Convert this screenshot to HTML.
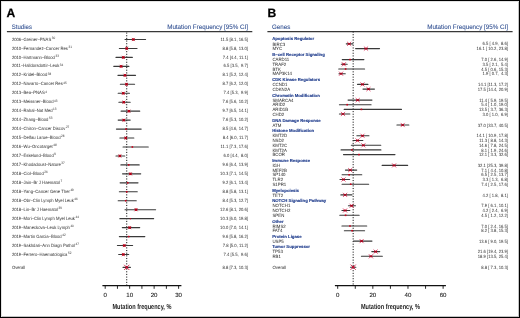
<!DOCTYPE html>
<html><head><meta charset="utf-8"><style>
html,body{margin:0;padding:0;background:#fff;}
body{width:520px;height:318px;overflow:hidden;position:relative;}
.frame{position:absolute;left:0;top:0;width:520px;height:318px;box-sizing:border-box;border:1px solid #000;border-right-width:1px;border-bottom-width:1px;}
.rb{position:absolute;left:518px;top:0;width:1px;height:318px;background:#c4c4c4;}
.bb{position:absolute;left:0;top:316px;width:520px;height:1px;background:#c4c4c4;}
.lb{position:absolute;left:1px;top:0;width:1px;height:318px;background:#e4e4e4;}
.tb{position:absolute;left:0;top:1px;width:520px;height:1px;background:#e4e4e4;}
svg{position:absolute;left:0;top:0;will-change:transform;}
svg text{font-family:"Liberation Sans", sans-serif;text-rendering:geometricPrecision;}
</style></head><body>
<svg width="520" height="318" viewBox="0 0 520 318">
<text x="6.55" y="16.65" font-size="12.1" font-weight="bold" fill="#000" stroke="#000" stroke-width="0.25">A</text>
<text x="267.6" y="16.65" font-size="12.1" font-weight="bold" fill="#000" stroke="#000" stroke-width="0.25">B</text>
<text x="0" y="0" font-size="6.5" fill="#2f4e90" transform="translate(11.85 28.50) scale(0.925 1)" style="white-space:pre" stroke="#2f4e90" stroke-width="0.08">Studies</text>
<text x="0" y="0" font-size="6.5" fill="#2f4e90" text-anchor="end" transform="translate(248.00 28.50) scale(0.96 1)" style="white-space:pre" stroke="#2f4e90" stroke-width="0.08">Mutation Frequency [95% CI]</text>
<text x="0" y="0" font-size="6.5" fill="#2f4e90" transform="translate(272.00 28.50) scale(0.955 1)" style="white-space:pre" stroke="#2f4e90" stroke-width="0.08">Genes</text>
<text x="0" y="0" font-size="6.5" fill="#2f4e90" text-anchor="end" transform="translate(508.00 28.50) scale(0.96 1)" style="white-space:pre" stroke="#2f4e90" stroke-width="0.08">Mutation Frequency [95% CI]</text>
<line x1="6.9" y1="31.6" x2="252.3" y2="31.6" stroke="#383838" stroke-width="1.2"/>
<line x1="267.4" y1="31.6" x2="512.6" y2="31.6" stroke="#383838" stroke-width="1.2"/>
<line x1="126.73" y1="32.55" x2="126.73" y2="285.6" stroke="#111" stroke-width="1.0" stroke-dasharray="1.1 1.552"/>
<line x1="353.16" y1="31.5" x2="353.16" y2="285.6" stroke="#111" stroke-width="1.0" stroke-dasharray="1.1 1.552"/>
<text x="0" y="0" font-size="4.6" fill="#2e2e2e" transform="translate(11.90 40.60) scale(0.91 1)" style="white-space:pre">2006–Greiner–PNAS<tspan font-size="3.4" dy="-1.8" dx="0.6">30</tspan></text>
<text x="0" y="0" font-size="4.6" fill="#2e2e2e" text-anchor="end" transform="translate(248.00 40.60) scale(0.91 1)" style="white-space:pre">11.5 [8.1, 16.5]</text>
<line x1="125.02" y1="39.50" x2="145.58" y2="39.50" stroke="#3a3a3a" stroke-width="1.12" stroke-linecap="round"/>
<rect x="132.14" y="38.30" width="2.4" height="2.4" fill="#d4001c"/><path d="M131.74 37.90L134.94 41.10M131.74 41.10L134.94 37.90" stroke="#8a0014" stroke-width="0.5"/>
<text x="0" y="0" font-size="4.6" fill="#2e2e2e" transform="translate(11.90 49.56) scale(0.91 1)" style="white-space:pre">2010–Fernandez–Cancer Res<tspan font-size="3.4" dy="-1.8" dx="0.6">31</tspan></text>
<text x="0" y="0" font-size="4.6" fill="#2e2e2e" text-anchor="end" transform="translate(248.00 49.56) scale(0.91 1)" style="white-space:pre">8.8 [5.8, 13.0]</text>
<line x1="119.39" y1="48.46" x2="137.01" y2="48.46" stroke="#3a3a3a" stroke-width="1.12" stroke-linecap="round"/>
<rect x="125.53" y="47.26" width="2.4" height="2.4" fill="#d4001c"/><path d="M125.13 46.86L128.33 50.06M125.13 50.06L128.33 46.86" stroke="#8a0014" stroke-width="0.5"/>
<text x="0" y="0" font-size="4.6" fill="#2e2e2e" transform="translate(11.90 58.52) scale(0.91 1)" style="white-space:pre">2010–Hartmann–Blood<tspan font-size="3.4" dy="-1.8" dx="0.6">33</tspan></text>
<text x="0" y="0" font-size="4.6" fill="#2e2e2e" text-anchor="end" transform="translate(248.00 58.52) scale(0.91 1)" style="white-space:pre">7.4 [4.4, 11.1]</text>
<line x1="115.97" y1="57.42" x2="132.36" y2="57.42" stroke="#3a3a3a" stroke-width="1.12" stroke-linecap="round"/>
<rect x="122.11" y="56.22" width="2.4" height="2.4" fill="#d4001c"/><path d="M121.71 55.82L124.91 59.02M121.71 59.02L124.91 55.82" stroke="#8a0014" stroke-width="0.5"/>
<text x="0" y="0" font-size="4.6" fill="#2e2e2e" transform="translate(11.90 67.47) scale(0.91 1)" style="white-space:pre">2011–Halldorsdottir–Leuk<tspan font-size="3.4" dy="-1.8" dx="0.6">34</tspan></text>
<text x="0" y="0" font-size="4.6" fill="#2e2e2e" text-anchor="end" transform="translate(248.00 67.47) scale(0.91 1)" style="white-space:pre">6.5 [3.5,  9.7]</text>
<line x1="113.76" y1="66.37" x2="128.94" y2="66.37" stroke="#3a3a3a" stroke-width="1.12" stroke-linecap="round"/>
<rect x="119.91" y="65.17" width="2.4" height="2.4" fill="#d4001c"/><path d="M119.51 64.77L122.71 67.97M119.51 67.97L122.71 64.77" stroke="#8a0014" stroke-width="0.5"/>
<text x="0" y="0" font-size="4.6" fill="#2e2e2e" transform="translate(11.90 76.43) scale(0.91 1)" style="white-space:pre">2012–Kridel–Blood<tspan font-size="3.4" dy="-1.8" dx="0.6">38</tspan></text>
<text x="0" y="0" font-size="4.6" fill="#2e2e2e" text-anchor="end" transform="translate(248.00 76.43) scale(0.91 1)" style="white-space:pre">8.1 [5.2, 12.4]</text>
<line x1="117.92" y1="75.33" x2="135.54" y2="75.33" stroke="#3a3a3a" stroke-width="1.12" stroke-linecap="round"/>
<rect x="123.82" y="74.13" width="2.4" height="2.4" fill="#d4001c"/><path d="M123.42 73.73L126.62 76.93M123.42 76.93L126.62 73.73" stroke="#8a0014" stroke-width="0.5"/>
<text x="0" y="0" font-size="4.6" fill="#2e2e2e" transform="translate(11.90 85.39) scale(0.91 1)" style="white-space:pre">2012–Navarro–Cancer Res<tspan font-size="3.4" dy="-1.8" dx="0.6">45</tspan></text>
<text x="0" y="0" font-size="4.6" fill="#2e2e2e" text-anchor="end" transform="translate(248.00 85.39) scale(0.91 1)" style="white-space:pre">8.7 [6.2, 12.0]</text>
<line x1="120.37" y1="84.29" x2="134.56" y2="84.29" stroke="#3a3a3a" stroke-width="1.12" stroke-linecap="round"/>
<rect x="125.29" y="83.09" width="2.4" height="2.4" fill="#d4001c"/><path d="M124.89 82.69L128.09 85.89M124.89 85.89L128.09 82.69" stroke="#8a0014" stroke-width="0.5"/>
<text x="0" y="0" font-size="4.6" fill="#2e2e2e" transform="translate(11.90 94.35) scale(0.91 1)" style="white-space:pre">2013–Bea–PNAS<tspan font-size="3.4" dy="-1.8" dx="0.6">4</tspan></text>
<text x="0" y="0" font-size="4.6" fill="#2e2e2e" text-anchor="end" transform="translate(248.00 94.35) scale(0.91 1)" style="white-space:pre">7.4 [5.3,  9.9]</text>
<line x1="118.17" y1="93.25" x2="129.43" y2="93.25" stroke="#3a3a3a" stroke-width="1.12" stroke-linecap="round"/>
<rect x="122.11" y="92.05" width="2.4" height="2.4" fill="#d4001c"/><path d="M121.71 91.65L124.91 94.85M121.71 94.85L124.91 91.65" stroke="#8a0014" stroke-width="0.5"/>
<text x="0" y="0" font-size="4.6" fill="#2e2e2e" transform="translate(11.90 103.31) scale(0.91 1)" style="white-space:pre">2013–Meissner–Blood<tspan font-size="3.4" dy="-1.8" dx="0.6">43</tspan></text>
<text x="0" y="0" font-size="4.6" fill="#2e2e2e" text-anchor="end" transform="translate(248.00 103.31) scale(0.91 1)" style="white-space:pre">7.6 [5.6, 10.2]</text>
<line x1="118.90" y1="102.21" x2="130.16" y2="102.21" stroke="#3a3a3a" stroke-width="1.12" stroke-linecap="round"/>
<rect x="122.60" y="101.01" width="2.4" height="2.4" fill="#d4001c"/><path d="M122.20 100.61L125.40 103.81M122.20 103.81L125.40 100.61" stroke="#8a0014" stroke-width="0.5"/>
<text x="0" y="0" font-size="4.6" fill="#2e2e2e" transform="translate(11.90 112.26) scale(0.91 1)" style="white-space:pre">2014–Rahal–Nat Med<tspan font-size="3.4" dy="-1.8" dx="0.6">13</tspan></text>
<text x="0" y="0" font-size="4.6" fill="#2e2e2e" text-anchor="end" transform="translate(248.00 112.26) scale(0.91 1)" style="white-space:pre">9.7 [6.5, 14.1]</text>
<line x1="121.11" y1="111.16" x2="139.70" y2="111.16" stroke="#3a3a3a" stroke-width="1.12" stroke-linecap="round"/>
<rect x="127.74" y="109.96" width="2.4" height="2.4" fill="#d4001c"/><path d="M127.34 109.56L130.54 112.76M127.34 112.76L130.54 109.56" stroke="#8a0014" stroke-width="0.5"/>
<text x="0" y="0" font-size="4.6" fill="#2e2e2e" transform="translate(11.90 121.22) scale(0.91 1)" style="white-space:pre">2014–Zhang–Blood<tspan font-size="3.4" dy="-1.8" dx="0.6">53</tspan></text>
<text x="0" y="0" font-size="4.6" fill="#2e2e2e" text-anchor="end" transform="translate(248.00 121.22) scale(0.91 1)" style="white-space:pre">7.6 [5.3, 10.2]</text>
<line x1="118.17" y1="120.12" x2="130.16" y2="120.12" stroke="#3a3a3a" stroke-width="1.12" stroke-linecap="round"/>
<rect x="122.60" y="118.92" width="2.4" height="2.4" fill="#d4001c"/><path d="M122.20 118.52L125.40 121.72M122.20 121.72L125.40 118.52" stroke="#8a0014" stroke-width="0.5"/>
<text x="0" y="0" font-size="4.6" fill="#2e2e2e" transform="translate(11.90 130.18) scale(0.91 1)" style="white-space:pre">2014–Chiron–Cancer Discov<tspan font-size="3.4" dy="-1.8" dx="0.6">27</tspan></text>
<text x="0" y="0" font-size="4.6" fill="#2e2e2e" text-anchor="end" transform="translate(248.00 130.18) scale(0.91 1)" style="white-space:pre">8.5 [4.6, 14.7]</text>
<line x1="116.46" y1="129.08" x2="141.17" y2="129.08" stroke="#3a3a3a" stroke-width="1.12" stroke-linecap="round"/>
<rect x="125.20" y="128.28" width="1.6" height="1.6" fill="#cc001c"/>
<text x="0" y="0" font-size="4.6" fill="#2e2e2e" transform="translate(11.90 139.14) scale(0.91 1)" style="white-space:pre">2015–Delfau Larue–Blood<tspan font-size="3.4" dy="-1.8" dx="0.6">28</tspan></text>
<text x="0" y="0" font-size="4.6" fill="#2e2e2e" text-anchor="end" transform="translate(248.00 139.14) scale(0.91 1)" style="white-space:pre">8.4 [6.0, 11.7]</text>
<line x1="119.88" y1="138.04" x2="133.83" y2="138.04" stroke="#3a3a3a" stroke-width="1.12" stroke-linecap="round"/>
<rect x="124.55" y="136.84" width="2.4" height="2.4" fill="#d4001c"/><path d="M124.15 136.44L127.35 139.64M124.15 139.64L127.35 136.44" stroke="#8a0014" stroke-width="0.5"/>
<text x="0" y="0" font-size="4.6" fill="#2e2e2e" transform="translate(11.90 148.10) scale(0.91 1)" style="white-space:pre">2016–Wu–Oncotarget<tspan font-size="3.4" dy="-1.8" dx="0.6">48</tspan></text>
<text x="0" y="0" font-size="4.6" fill="#2e2e2e" text-anchor="end" transform="translate(248.00 148.10) scale(0.91 1)" style="white-space:pre">11.1 [7.3, 17.6]</text>
<line x1="123.06" y1="147.00" x2="148.27" y2="147.00" stroke="#3a3a3a" stroke-width="1.12" stroke-linecap="round"/>
<rect x="131.56" y="146.20" width="1.6" height="1.6" fill="#cc001c"/>
<text x="0" y="0" font-size="4.6" fill="#2e2e2e" transform="translate(11.90 157.05) scale(0.91 1)" style="white-space:pre">2017–Eskelund–Blood<tspan font-size="3.4" dy="-1.8" dx="0.6">9</tspan></text>
<text x="0" y="0" font-size="4.6" fill="#2e2e2e" text-anchor="end" transform="translate(248.00 157.05) scale(0.91 1)" style="white-space:pre">6.0 [4.4,  8.0]</text>
<line x1="115.97" y1="155.95" x2="124.78" y2="155.95" stroke="#3a3a3a" stroke-width="1.12" stroke-linecap="round"/>
<rect x="118.68" y="154.75" width="2.4" height="2.4" fill="#d4001c"/><path d="M118.28 154.35L121.48 157.55M118.28 157.55L121.48 154.35" stroke="#8a0014" stroke-width="0.5"/>
<text x="0" y="0" font-size="4.6" fill="#2e2e2e" transform="translate(11.90 166.01) scale(0.91 1)" style="white-space:pre">2017–Khodadoust–Nature<tspan font-size="3.4" dy="-1.8" dx="0.6">37</tspan></text>
<text x="0" y="0" font-size="4.6" fill="#2e2e2e" text-anchor="end" transform="translate(248.00 166.01) scale(0.91 1)" style="white-space:pre">9.6 [6.4, 13.9]</text>
<line x1="120.86" y1="164.91" x2="139.21" y2="164.91" stroke="#3a3a3a" stroke-width="1.12" stroke-linecap="round"/>
<rect x="127.89" y="164.11" width="1.6" height="1.6" fill="#cc001c"/>
<text x="0" y="0" font-size="4.6" fill="#2e2e2e" transform="translate(11.90 174.97) scale(0.91 1)" style="white-space:pre">2018–Ciol–Blood<tspan font-size="3.4" dy="-1.8" dx="0.6">26</tspan></text>
<text x="0" y="0" font-size="4.6" fill="#2e2e2e" text-anchor="end" transform="translate(248.00 174.97) scale(0.91 1)" style="white-space:pre">10.3 [7.1, 14.5]</text>
<line x1="122.57" y1="173.87" x2="140.68" y2="173.87" stroke="#3a3a3a" stroke-width="1.12" stroke-linecap="round"/>
<rect x="129.20" y="172.67" width="2.4" height="2.4" fill="#d4001c"/><path d="M128.80 172.27L132.00 175.47M128.80 175.47L132.00 172.27" stroke="#8a0014" stroke-width="0.5"/>
<text x="0" y="0" font-size="4.6" fill="#2e2e2e" transform="translate(11.90 183.93) scale(0.91 1)" style="white-space:pre">2018–Jain–Br J Haematol<tspan font-size="3.4" dy="-1.8" dx="0.6">7</tspan></text>
<text x="0" y="0" font-size="4.6" fill="#2e2e2e" text-anchor="end" transform="translate(248.00 183.93) scale(0.91 1)" style="white-space:pre">9.2 [6.1, 13.4]</text>
<line x1="120.13" y1="182.83" x2="137.99" y2="182.83" stroke="#3a3a3a" stroke-width="1.12" stroke-linecap="round"/>
<rect x="126.91" y="182.03" width="1.6" height="1.6" fill="#cc001c"/>
<text x="0" y="0" font-size="4.6" fill="#2e2e2e" transform="translate(11.90 192.89) scale(0.91 1)" style="white-space:pre">2018–Yang–Cancer Gene Ther<tspan font-size="3.4" dy="-1.8" dx="0.6">49</tspan></text>
<text x="0" y="0" font-size="4.6" fill="#2e2e2e" text-anchor="end" transform="translate(248.00 192.89) scale(0.91 1)" style="white-space:pre">8.8 [5.8, 13.1]</text>
<line x1="119.39" y1="191.79" x2="137.26" y2="191.79" stroke="#3a3a3a" stroke-width="1.12" stroke-linecap="round"/>
<rect x="125.93" y="190.99" width="1.6" height="1.6" fill="#cc001c"/>
<text x="0" y="0" font-size="4.6" fill="#2e2e2e" transform="translate(11.90 201.84) scale(0.91 1)" style="white-space:pre">2018–Obr–Clin Lymph Myel Leuk<tspan font-size="3.4" dy="-1.8" dx="0.6">46</tspan></text>
<text x="0" y="0" font-size="4.6" fill="#2e2e2e" text-anchor="end" transform="translate(248.00 201.84) scale(0.91 1)" style="white-space:pre">8.4 [5.3, 12.7]</text>
<line x1="118.17" y1="200.74" x2="136.28" y2="200.74" stroke="#3a3a3a" stroke-width="1.12" stroke-linecap="round"/>
<rect x="124.95" y="199.94" width="1.6" height="1.6" fill="#cc001c"/>
<text x="0" y="0" font-size="4.6" fill="#2e2e2e" transform="translate(11.90 210.80) scale(0.91 1)" style="white-space:pre">2018–Lin–Br J Haematol<tspan font-size="3.4" dy="-1.8" dx="0.6">39</tspan></text>
<text x="0" y="0" font-size="4.6" fill="#2e2e2e" text-anchor="end" transform="translate(248.00 210.80) scale(0.91 1)" style="white-space:pre">12.6 [8.1, 20.6]</text>
<line x1="125.02" y1="209.70" x2="155.61" y2="209.70" stroke="#3a3a3a" stroke-width="1.12" stroke-linecap="round"/>
<rect x="134.83" y="208.50" width="2.4" height="2.4" fill="#d4001c"/><path d="M134.43 208.10L137.63 211.30M134.43 211.30L137.63 208.10" stroke="#8a0014" stroke-width="0.5"/>
<text x="0" y="0" font-size="4.6" fill="#2e2e2e" transform="translate(11.90 219.76) scale(0.91 1)" style="white-space:pre">2019–Mori–Clin Lymph Myel Leuk<tspan font-size="3.4" dy="-1.8" dx="0.6">44</tspan></text>
<text x="0" y="0" font-size="4.6" fill="#2e2e2e" text-anchor="end" transform="translate(248.00 219.76) scale(0.91 1)" style="white-space:pre">10.3 [6.0, 19.8]</text>
<line x1="119.88" y1="218.66" x2="153.65" y2="218.66" stroke="#3a3a3a" stroke-width="1.12" stroke-linecap="round"/>
<rect x="129.80" y="218.06" width="1.2" height="1.2" fill="#c0001c"/>
<text x="0" y="0" font-size="4.6" fill="#2e2e2e" transform="translate(11.90 228.72) scale(0.91 1)" style="white-space:pre">2019–Maneckova–Leuk Lymph<tspan font-size="3.4" dy="-1.8" dx="0.6">40</tspan></text>
<text x="0" y="0" font-size="4.6" fill="#2e2e2e" text-anchor="end" transform="translate(248.00 228.72) scale(0.91 1)" style="white-space:pre">10.0 [7.0, 14.1]</text>
<line x1="122.33" y1="227.62" x2="139.70" y2="227.62" stroke="#3a3a3a" stroke-width="1.12" stroke-linecap="round"/>
<rect x="128.47" y="226.42" width="2.4" height="2.4" fill="#d4001c"/><path d="M128.07 226.02L131.27 229.22M128.07 229.22L131.27 226.02" stroke="#8a0014" stroke-width="0.5"/>
<text x="0" y="0" font-size="4.6" fill="#2e2e2e" transform="translate(11.90 237.68) scale(0.91 1)" style="white-space:pre">2019–Martin Garcia–Blood<tspan font-size="3.4" dy="-1.8" dx="0.6">42</tspan></text>
<text x="0" y="0" font-size="4.6" fill="#2e2e2e" text-anchor="end" transform="translate(248.00 237.68) scale(0.91 1)" style="white-space:pre">9.6 [5.8, 16.2]</text>
<line x1="119.39" y1="236.58" x2="144.84" y2="236.58" stroke="#3a3a3a" stroke-width="1.12" stroke-linecap="round"/>
<rect x="127.89" y="235.78" width="1.6" height="1.6" fill="#cc001c"/>
<text x="0" y="0" font-size="4.6" fill="#2e2e2e" transform="translate(11.90 246.63) scale(0.91 1)" style="white-space:pre">2019–Sakhdari–Ann Diagn Pathol<tspan font-size="3.4" dy="-1.8" dx="0.6">47</tspan></text>
<text x="0" y="0" font-size="4.6" fill="#2e2e2e" text-anchor="end" transform="translate(248.00 246.63) scale(0.91 1)" style="white-space:pre">7.8 [5.0, 11.2]</text>
<line x1="117.44" y1="245.53" x2="132.61" y2="245.53" stroke="#3a3a3a" stroke-width="1.12" stroke-linecap="round"/>
<rect x="123.09" y="244.33" width="2.4" height="2.4" fill="#d4001c"/><path d="M122.69 243.93L125.89 247.13M122.69 247.13L125.89 243.93" stroke="#8a0014" stroke-width="0.5"/>
<text x="0" y="0" font-size="4.6" fill="#2e2e2e" transform="translate(11.90 255.59) scale(0.91 1)" style="white-space:pre">2019–Ferrero–Haematologica<tspan font-size="3.4" dy="-1.8" dx="0.6">52</tspan></text>
<text x="0" y="0" font-size="4.6" fill="#2e2e2e" text-anchor="end" transform="translate(248.00 255.59) scale(0.91 1)" style="white-space:pre">7.4 [5.5,  9.6]</text>
<line x1="118.66" y1="254.49" x2="128.69" y2="254.49" stroke="#3a3a3a" stroke-width="1.12" stroke-linecap="round"/>
<rect x="122.11" y="253.29" width="2.4" height="2.4" fill="#d4001c"/><path d="M121.71 252.89L124.91 256.09M121.71 256.09L124.91 252.89" stroke="#8a0014" stroke-width="0.5"/>
<text x="0" y="0" font-size="4.6" fill="#2e2e2e" transform="translate(11.90 268.50) scale(0.91 1)" style="white-space:pre">Overall</text>
<text x="0" y="0" font-size="4.6" fill="#2e2e2e" text-anchor="end" transform="translate(248.00 268.50) scale(0.91 1)" style="white-space:pre">8.8 [7.3, 10.3]</text>
<line x1="123.06" y1="267.40" x2="130.40" y2="267.40" stroke="#3a3a3a" stroke-width="1.12" stroke-linecap="round"/>
<rect x="125.63" y="266.30" width="2.2" height="2.2" fill="#a8001a"/><path d="M124.13 264.80L129.33 270.00M124.13 270.00L129.33 264.80" stroke="#d0103a" stroke-width="0.85"/>
<text x="272.2" y="40.45" font-size="4.28" font-weight="bold" fill="#1f3c8c" stroke="#1f3c8c" stroke-width="0.12">Apoptosis Regulator</text>
<text x="0" y="0" font-size="4.6" fill="#222" transform="translate(272.40 45.50) scale(0.95 1)" style="white-space:pre">BIRC3</text>
<text x="0" y="0" font-size="4.6" fill="#2e2e2e" text-anchor="end" transform="translate(508.00 45.45) scale(0.91 1)" style="white-space:pre">6.5 [ 4.9,  8.6]</text>
<line x1="346.31" y1="43.85" x2="352.81" y2="43.85" stroke="#3a3a3a" stroke-width="1.12" stroke-linecap="round"/>
<path d="M347.02 41.75L351.22 45.95M347.02 45.95L351.22 41.75" stroke="#d81848" stroke-width="0.65"/><path d="M347.82 42.55L350.42 45.15L350.42 42.55L347.82 45.15Z" fill="#b0001c"/><rect x="348.62" y="42.95" width="1" height="1.8" fill="#a00018"/>
<text x="0" y="0" font-size="4.6" fill="#222" transform="translate(272.40 50.25) scale(0.95 1)" style="white-space:pre">MYC</text>
<text x="0" y="0" font-size="4.6" fill="#2e2e2e" text-anchor="end" transform="translate(508.00 50.20) scale(0.91 1)" style="white-space:pre">16.1 [ 10.2, 23.8]</text>
<line x1="355.62" y1="48.60" x2="379.52" y2="48.60" stroke="#3a3a3a" stroke-width="1.12" stroke-linecap="round"/>
<path d="M363.89 46.50L368.09 50.70M363.89 50.70L368.09 46.50" stroke="#d81848" stroke-width="0.65"/><path d="M364.69 47.30L367.29 49.90L367.29 47.30L364.69 49.90Z" fill="#b0001c"/><rect x="365.49" y="47.70" width="1" height="1.8" fill="#a00018"/>
<text x="272.2" y="56.20" font-size="4.28" font-weight="bold" fill="#1f3c8c" stroke="#1f3c8c" stroke-width="0.12">B–cell Receptor Signaling</text>
<text x="0" y="0" font-size="4.6" fill="#222" transform="translate(272.40 61.25) scale(0.95 1)" style="white-space:pre">CARD11</text>
<text x="0" y="0" font-size="4.6" fill="#2e2e2e" text-anchor="end" transform="translate(508.00 61.20) scale(0.91 1)" style="white-space:pre">7.0 [ 2.6, 14.9]</text>
<line x1="342.27" y1="59.60" x2="363.88" y2="59.60" stroke="#3a3a3a" stroke-width="1.12" stroke-linecap="round"/>
<rect x="349.20" y="58.80" width="1.6" height="1.6" fill="#cc001c"/>
<text x="0" y="0" font-size="4.6" fill="#222" transform="translate(272.40 65.95) scale(0.95 1)" style="white-space:pre">TRAF2</text>
<text x="0" y="0" font-size="4.6" fill="#2e2e2e" text-anchor="end" transform="translate(508.00 65.90) scale(0.91 1)" style="white-space:pre">3.5 [ 2.1,  5.4]</text>
<line x1="341.39" y1="64.30" x2="347.19" y2="64.30" stroke="#3a3a3a" stroke-width="1.12" stroke-linecap="round"/>
<path d="M341.75 62.20L345.95 66.40M341.75 66.40L345.95 62.20" stroke="#d81848" stroke-width="0.65"/><path d="M342.55 63.00L345.15 65.60L345.15 63.00L342.55 65.60Z" fill="#b0001c"/><rect x="343.35" y="63.40" width="1" height="1.8" fill="#a00018"/>
<text x="0" y="0" font-size="4.6" fill="#222" transform="translate(272.40 70.65) scale(0.95 1)" style="white-space:pre">BTK</text>
<text x="0" y="0" font-size="4.6" fill="#2e2e2e" text-anchor="end" transform="translate(508.00 70.60) scale(0.91 1)" style="white-space:pre">4.5 [ 0.6, 15.3]</text>
<line x1="338.75" y1="69.00" x2="364.58" y2="69.00" stroke="#3a3a3a" stroke-width="1.12" stroke-linecap="round"/>
<rect x="344.81" y="68.20" width="1.6" height="1.6" fill="#cc001c"/>
<text x="0" y="0" font-size="4.6" fill="#222" transform="translate(272.40 75.35) scale(0.95 1)" style="white-space:pre">MAP3K14</text>
<text x="0" y="0" font-size="4.6" fill="#2e2e2e" text-anchor="end" transform="translate(508.00 75.30) scale(0.91 1)" style="white-space:pre">1.9 [ 0.7,  4.3]</text>
<line x1="338.93" y1="73.70" x2="345.26" y2="73.70" stroke="#3a3a3a" stroke-width="1.12" stroke-linecap="round"/>
<path d="M338.94 71.60L343.14 75.80M338.94 75.80L343.14 71.60" stroke="#d81848" stroke-width="0.65"/><path d="M339.74 72.40L342.34 75.00L342.34 72.40L339.74 75.00Z" fill="#b0001c"/><rect x="340.54" y="72.80" width="1" height="1.8" fill="#a00018"/>
<text x="272.2" y="81.00" font-size="4.28" font-weight="bold" fill="#1f3c8c" stroke="#1f3c8c" stroke-width="0.12">CDK Kinase Regulators</text>
<text x="0" y="0" font-size="4.6" fill="#222" transform="translate(272.40 86.05) scale(0.95 1)" style="white-space:pre">CCND1</text>
<text x="0" y="0" font-size="4.6" fill="#2e2e2e" text-anchor="end" transform="translate(508.00 86.00) scale(0.91 1)" style="white-space:pre">14.1 [11.3, 17.2]</text>
<line x1="357.55" y1="84.40" x2="367.92" y2="84.40" stroke="#3a3a3a" stroke-width="1.12" stroke-linecap="round"/>
<path d="M360.37 82.30L364.57 86.50M360.37 86.50L364.57 82.30" stroke="#d81848" stroke-width="0.65"/><path d="M361.17 83.10L363.77 85.70L363.77 83.10L361.17 85.70Z" fill="#b0001c"/><rect x="361.97" y="83.50" width="1" height="1.8" fill="#a00018"/>
<text x="0" y="0" font-size="4.6" fill="#222" transform="translate(272.40 90.75) scale(0.95 1)" style="white-space:pre">CDKN2A</text>
<text x="0" y="0" font-size="4.6" fill="#2e2e2e" text-anchor="end" transform="translate(508.00 90.70) scale(0.91 1)" style="white-space:pre">17.5 [14.4, 20.9]</text>
<line x1="363.00" y1="89.10" x2="374.42" y2="89.10" stroke="#3a3a3a" stroke-width="1.12" stroke-linecap="round"/>
<path d="M366.35 87.00L370.55 91.20M366.35 91.20L370.55 87.00" stroke="#d81848" stroke-width="0.65"/><path d="M367.15 87.80L369.75 90.40L369.75 87.80L367.15 90.40Z" fill="#b0001c"/><rect x="367.95" y="88.20" width="1" height="1.8" fill="#a00018"/>
<text x="272.2" y="96.70" font-size="4.28" font-weight="bold" fill="#1f3c8c" stroke="#1f3c8c" stroke-width="0.12">Chromatin Modification</text>
<text x="0" y="0" font-size="4.6" fill="#222" transform="translate(272.40 101.75) scale(0.95 1)" style="white-space:pre">SMARCA4</text>
<text x="0" y="0" font-size="4.6" fill="#2e2e2e" text-anchor="end" transform="translate(508.00 101.70) scale(0.91 1)" style="white-space:pre">11.4 [ 5.9, 19.5]</text>
<line x1="348.07" y1="100.10" x2="371.96" y2="100.10" stroke="#3a3a3a" stroke-width="1.12" stroke-linecap="round"/>
<path d="M355.63 98.00L359.83 102.20M355.63 102.20L359.83 98.00" stroke="#d81848" stroke-width="0.65"/><path d="M356.43 98.80L359.03 101.40L359.03 98.80L356.43 101.40Z" fill="#b0001c"/><rect x="357.23" y="99.20" width="1" height="1.8" fill="#a00018"/>
<text x="0" y="0" font-size="4.6" fill="#222" transform="translate(272.40 106.35) scale(0.95 1)" style="white-space:pre">ARID2</text>
<text x="0" y="0" font-size="4.6" fill="#2e2e2e" text-anchor="end" transform="translate(508.00 106.30) scale(0.91 1)" style="white-space:pre">5.4 [ 1.0, 19.0]</text>
<line x1="339.46" y1="104.70" x2="371.08" y2="104.70" stroke="#3a3a3a" stroke-width="1.12" stroke-linecap="round"/>
<rect x="346.39" y="103.90" width="1.6" height="1.6" fill="#cc001c"/>
<text x="0" y="0" font-size="4.6" fill="#222" transform="translate(272.40 111.05) scale(0.95 1)" style="white-space:pre">ARID1B</text>
<text x="0" y="0" font-size="4.6" fill="#2e2e2e" text-anchor="end" transform="translate(508.00 111.00) scale(0.91 1)" style="white-space:pre">13.5 [ 3.7, 36.3]</text>
<line x1="344.20" y1="109.40" x2="401.48" y2="109.40" stroke="#3a3a3a" stroke-width="1.12" stroke-linecap="round"/>
<rect x="360.62" y="108.60" width="1.6" height="1.6" fill="#cc001c"/>
<text x="0" y="0" font-size="4.6" fill="#222" transform="translate(272.40 115.65) scale(0.95 1)" style="white-space:pre">CHD2</text>
<text x="0" y="0" font-size="4.6" fill="#2e2e2e" text-anchor="end" transform="translate(508.00 115.60) scale(0.91 1)" style="white-space:pre">3.0 [ 1.0,  6.9]</text>
<line x1="339.46" y1="114.00" x2="349.82" y2="114.00" stroke="#3a3a3a" stroke-width="1.12" stroke-linecap="round"/>
<path d="M340.87 111.90L345.07 116.10M340.87 116.10L345.07 111.90" stroke="#d81848" stroke-width="0.65"/><path d="M341.67 112.70L344.27 115.30L344.27 112.70L341.67 115.30Z" fill="#b0001c"/><rect x="342.47" y="113.10" width="1" height="1.8" fill="#a00018"/>
<text x="272.2" y="121.60" font-size="4.28" font-weight="bold" fill="#1f3c8c" stroke="#1f3c8c" stroke-width="0.12">DNA Damage Response</text>
<text x="0" y="0" font-size="4.6" fill="#222" transform="translate(272.40 126.65) scale(0.95 1)" style="white-space:pre">ATM</text>
<text x="0" y="0" font-size="4.6" fill="#2e2e2e" text-anchor="end" transform="translate(508.00 126.60) scale(0.91 1)" style="white-space:pre">37.0 [33.7, 40.5]</text>
<line x1="396.91" y1="125.00" x2="408.86" y2="125.00" stroke="#3a3a3a" stroke-width="1.12" stroke-linecap="round"/>
<path d="M400.61 122.90L404.81 127.10M400.61 127.10L404.81 122.90" stroke="#d81848" stroke-width="0.65"/><path d="M401.41 123.70L404.01 126.30L404.01 123.70L401.41 126.30Z" fill="#b0001c"/><rect x="402.21" y="124.10" width="1" height="1.8" fill="#a00018"/>
<text x="272.2" y="132.40" font-size="4.28" font-weight="bold" fill="#1f3c8c" stroke="#1f3c8c" stroke-width="0.12">Histone Modification</text>
<text x="0" y="0" font-size="4.6" fill="#222" transform="translate(272.40 137.45) scale(0.95 1)" style="white-space:pre">KMT2D</text>
<text x="0" y="0" font-size="4.6" fill="#2e2e2e" text-anchor="end" transform="translate(508.00 137.40) scale(0.91 1)" style="white-space:pre">14.1 [ 10.9, 17.8]</text>
<line x1="356.85" y1="135.80" x2="368.97" y2="135.80" stroke="#3a3a3a" stroke-width="1.12" stroke-linecap="round"/>
<path d="M360.37 133.70L364.57 137.90M360.37 137.90L364.57 133.70" stroke="#d81848" stroke-width="0.65"/><path d="M361.17 134.50L363.77 137.10L363.77 134.50L361.17 137.10Z" fill="#b0001c"/><rect x="361.97" y="134.90" width="1" height="1.8" fill="#a00018"/>
<text x="0" y="0" font-size="4.6" fill="#222" transform="translate(272.40 142.15) scale(0.95 1)" style="white-space:pre">NSD2</text>
<text x="0" y="0" font-size="4.6" fill="#2e2e2e" text-anchor="end" transform="translate(508.00 142.10) scale(0.91 1)" style="white-space:pre">11.3 [ 8.8, 14.3]</text>
<line x1="353.16" y1="140.50" x2="362.83" y2="140.50" stroke="#3a3a3a" stroke-width="1.12" stroke-linecap="round"/>
<path d="M355.45 138.40L359.65 142.60M355.45 142.60L359.65 138.40" stroke="#d81848" stroke-width="0.65"/><path d="M356.25 139.20L358.85 141.80L358.85 139.20L356.25 141.80Z" fill="#b0001c"/><rect x="357.05" y="139.60" width="1" height="1.8" fill="#a00018"/>
<text x="0" y="0" font-size="4.6" fill="#222" transform="translate(272.40 146.95) scale(0.95 1)" style="white-space:pre">KMT2C</text>
<text x="0" y="0" font-size="4.6" fill="#2e2e2e" text-anchor="end" transform="translate(508.00 146.90) scale(0.91 1)" style="white-space:pre">14.6 [ 7.8, 24.5]</text>
<line x1="351.40" y1="145.30" x2="380.75" y2="145.30" stroke="#3a3a3a" stroke-width="1.12" stroke-linecap="round"/>
<path d="M361.25 143.20L365.45 147.40M361.25 147.40L365.45 143.20" stroke="#d81848" stroke-width="0.65"/><path d="M362.05 144.00L364.65 146.60L364.65 144.00L362.05 146.60Z" fill="#b0001c"/><rect x="362.85" y="144.40" width="1" height="1.8" fill="#a00018"/>
<text x="0" y="0" font-size="4.6" fill="#222" transform="translate(272.40 151.55) scale(0.95 1)" style="white-space:pre">KMT2A</text>
<text x="0" y="0" font-size="4.6" fill="#2e2e2e" text-anchor="end" transform="translate(508.00 151.50) scale(0.91 1)" style="white-space:pre">8.1 [ 1.9, 24.6]</text>
<line x1="341.04" y1="149.90" x2="380.92" y2="149.90" stroke="#3a3a3a" stroke-width="1.12" stroke-linecap="round"/>
<rect x="351.13" y="149.10" width="1.6" height="1.6" fill="#cc001c"/>
<text x="0" y="0" font-size="4.6" fill="#222" transform="translate(272.40 156.25) scale(0.95 1)" style="white-space:pre">BCOR</text>
<text x="0" y="0" font-size="4.6" fill="#2e2e2e" text-anchor="end" transform="translate(508.00 156.20) scale(0.91 1)" style="white-space:pre">12.1 [ 3.3, 32.6]</text>
<line x1="343.50" y1="154.60" x2="394.98" y2="154.60" stroke="#3a3a3a" stroke-width="1.12" stroke-linecap="round"/>
<rect x="358.16" y="153.80" width="1.6" height="1.6" fill="#cc001c"/>
<text x="272.2" y="162.00" font-size="4.28" font-weight="bold" fill="#1f3c8c" stroke="#1f3c8c" stroke-width="0.12">Immune Response</text>
<text x="0" y="0" font-size="4.6" fill="#222" transform="translate(272.40 167.05) scale(0.95 1)" style="white-space:pre">IGH</text>
<text x="0" y="0" font-size="4.6" fill="#2e2e2e" text-anchor="end" transform="translate(508.00 167.00) scale(0.91 1)" style="white-space:pre">32.1 [25.3, 39.8]</text>
<line x1="382.15" y1="165.40" x2="407.63" y2="165.40" stroke="#3a3a3a" stroke-width="1.12" stroke-linecap="round"/>
<path d="M392.00 163.30L396.20 167.50M392.00 167.50L396.20 163.30" stroke="#d81848" stroke-width="0.65"/><path d="M392.80 164.10L395.40 166.70L395.40 164.10L392.80 166.70Z" fill="#b0001c"/><rect x="393.60" y="164.50" width="1" height="1.8" fill="#a00018"/>
<text x="0" y="0" font-size="4.6" fill="#222" transform="translate(272.40 171.75) scale(0.95 1)" style="white-space:pre">MEF2B</text>
<text x="0" y="0" font-size="4.6" fill="#2e2e2e" text-anchor="end" transform="translate(508.00 171.70) scale(0.91 1)" style="white-space:pre">7.1 [ 4.4, 10.8]</text>
<line x1="345.43" y1="170.10" x2="356.68" y2="170.10" stroke="#3a3a3a" stroke-width="1.12" stroke-linecap="round"/>
<path d="M348.07 168.00L352.27 172.20M348.07 172.20L352.27 168.00" stroke="#d81848" stroke-width="0.65"/><path d="M348.87 168.80L351.47 171.40L351.47 168.80L348.87 171.40Z" fill="#b0001c"/><rect x="349.67" y="169.20" width="1" height="1.8" fill="#a00018"/>
<text x="0" y="0" font-size="4.6" fill="#222" transform="translate(272.40 176.45) scale(0.95 1)" style="white-space:pre">SP140</text>
<text x="0" y="0" font-size="4.6" fill="#2e2e2e" text-anchor="end" transform="translate(508.00 176.40) scale(0.91 1)" style="white-space:pre">6.5 [ 2.5, 13.7]</text>
<line x1="342.09" y1="174.80" x2="361.77" y2="174.80" stroke="#3a3a3a" stroke-width="1.12" stroke-linecap="round"/>
<rect x="348.32" y="174.00" width="1.6" height="1.6" fill="#cc001c"/>
<text x="0" y="0" font-size="4.6" fill="#222" transform="translate(272.40 181.15) scale(0.95 1)" style="white-space:pre">TLR2</text>
<text x="0" y="0" font-size="4.6" fill="#2e2e2e" text-anchor="end" transform="translate(508.00 181.10) scale(0.91 1)" style="white-space:pre">3.3 [ 1.3,  6.8]</text>
<line x1="339.98" y1="179.50" x2="349.65" y2="179.50" stroke="#3a3a3a" stroke-width="1.12" stroke-linecap="round"/>
<path d="M341.40 177.40L345.60 181.60M341.40 181.60L345.60 177.40" stroke="#d81848" stroke-width="0.65"/><path d="M342.20 178.20L344.80 180.80L344.80 178.20L342.20 180.80Z" fill="#b0001c"/><rect x="343.00" y="178.60" width="1" height="1.8" fill="#a00018"/>
<text x="0" y="0" font-size="4.6" fill="#222" transform="translate(272.40 185.85) scale(0.95 1)" style="white-space:pre">S1PR1</text>
<text x="0" y="0" font-size="4.6" fill="#2e2e2e" text-anchor="end" transform="translate(508.00 185.80) scale(0.91 1)" style="white-space:pre">7.4 [ 2.5, 17.6]</text>
<line x1="342.09" y1="184.20" x2="368.62" y2="184.20" stroke="#3a3a3a" stroke-width="1.12" stroke-linecap="round"/>
<rect x="349.90" y="183.40" width="1.6" height="1.6" fill="#cc001c"/>
<text x="272.2" y="191.50" font-size="4.28" font-weight="bold" fill="#1f3c8c" stroke="#1f3c8c" stroke-width="0.12">Myelopoiesis</text>
<text x="0" y="0" font-size="4.6" fill="#222" transform="translate(272.40 196.55) scale(0.95 1)" style="white-space:pre">TET2</text>
<text x="0" y="0" font-size="4.6" fill="#2e2e2e" text-anchor="end" transform="translate(508.00 196.50) scale(0.91 1)" style="white-space:pre">4.2 [ 1.8,  8.1]</text>
<line x1="340.86" y1="194.90" x2="351.93" y2="194.90" stroke="#3a3a3a" stroke-width="1.12" stroke-linecap="round"/>
<path d="M342.98 192.80L347.18 197.00M342.98 197.00L347.18 192.80" stroke="#d81848" stroke-width="0.65"/><path d="M343.78 193.60L346.38 196.20L346.38 193.60L343.78 196.20Z" fill="#b0001c"/><rect x="344.58" y="194.00" width="1" height="1.8" fill="#a00018"/>
<text x="272.2" y="202.40" font-size="4.28" font-weight="bold" fill="#1f3c8c" stroke="#1f3c8c" stroke-width="0.12">NOTCH Signaling Pathway</text>
<text x="0" y="0" font-size="4.6" fill="#222" transform="translate(272.40 207.45) scale(0.95 1)" style="white-space:pre">NOTCH1</text>
<text x="0" y="0" font-size="4.6" fill="#2e2e2e" text-anchor="end" transform="translate(508.00 207.40) scale(0.91 1)" style="white-space:pre">7.9 [ 6.1, 10.1]</text>
<line x1="348.42" y1="205.80" x2="355.45" y2="205.80" stroke="#3a3a3a" stroke-width="1.12" stroke-linecap="round"/>
<path d="M349.48 203.70L353.68 207.90M349.48 207.90L353.68 203.70" stroke="#d81848" stroke-width="0.65"/><path d="M350.28 204.50L352.88 207.10L352.88 204.50L350.28 207.10Z" fill="#b0001c"/><rect x="351.08" y="204.90" width="1" height="1.8" fill="#a00018"/>
<text x="0" y="0" font-size="4.6" fill="#222" transform="translate(272.40 212.15) scale(0.95 1)" style="white-space:pre">NOTCH2</text>
<text x="0" y="0" font-size="4.6" fill="#2e2e2e" text-anchor="end" transform="translate(508.00 212.10) scale(0.91 1)" style="white-space:pre">4.2 [ 2.4,  6.9]</text>
<line x1="341.92" y1="210.50" x2="349.82" y2="210.50" stroke="#3a3a3a" stroke-width="1.12" stroke-linecap="round"/>
<path d="M342.98 208.40L347.18 212.60M342.98 212.60L347.18 208.40" stroke="#d81848" stroke-width="0.65"/><path d="M343.78 209.20L346.38 211.80L346.38 209.20L343.78 211.80Z" fill="#b0001c"/><rect x="344.58" y="209.60" width="1" height="1.8" fill="#a00018"/>
<text x="0" y="0" font-size="4.6" fill="#222" transform="translate(272.40 216.95) scale(0.95 1)" style="white-space:pre">SPEN</text>
<text x="0" y="0" font-size="4.6" fill="#2e2e2e" text-anchor="end" transform="translate(508.00 216.90) scale(0.91 1)" style="white-space:pre">4.5 [ 1.2, 12.2]</text>
<line x1="339.81" y1="215.30" x2="359.14" y2="215.30" stroke="#3a3a3a" stroke-width="1.12" stroke-linecap="round"/>
<rect x="344.81" y="214.50" width="1.6" height="1.6" fill="#cc001c"/>
<text x="272.2" y="222.60" font-size="4.28" font-weight="bold" fill="#1f3c8c" stroke="#1f3c8c" stroke-width="0.12">Other</text>
<text x="0" y="0" font-size="4.6" fill="#222" transform="translate(272.40 227.65) scale(0.95 1)" style="white-space:pre">RIMS2</text>
<text x="0" y="0" font-size="4.6" fill="#2e2e2e" text-anchor="end" transform="translate(508.00 227.60) scale(0.91 1)" style="white-space:pre">7.0 [ 2.4, 16.5]</text>
<line x1="341.92" y1="226.00" x2="366.69" y2="226.00" stroke="#3a3a3a" stroke-width="1.12" stroke-linecap="round"/>
<rect x="349.20" y="225.20" width="1.6" height="1.6" fill="#cc001c"/>
<text x="0" y="0" font-size="4.6" fill="#222" transform="translate(272.40 232.35) scale(0.95 1)" style="white-space:pre">FAT4</text>
<text x="0" y="0" font-size="4.6" fill="#2e2e2e" text-anchor="end" transform="translate(508.00 232.30) scale(0.91 1)" style="white-space:pre">8.2 [ 3.8, 15.3]</text>
<line x1="344.38" y1="230.70" x2="364.58" y2="230.70" stroke="#3a3a3a" stroke-width="1.12" stroke-linecap="round"/>
<rect x="351.31" y="229.90" width="1.6" height="1.6" fill="#cc001c"/>
<text x="272.2" y="237.70" font-size="4.28" font-weight="bold" fill="#1f3c8c" stroke="#1f3c8c" stroke-width="0.12">Protein Ligase</text>
<text x="0" y="0" font-size="4.6" fill="#222" transform="translate(272.40 242.75) scale(0.95 1)" style="white-space:pre">USP5</text>
<text x="0" y="0" font-size="4.6" fill="#2e2e2e" text-anchor="end" transform="translate(508.00 242.70) scale(0.91 1)" style="white-space:pre">13.6 [ 9.0, 19.5]</text>
<line x1="353.51" y1="241.10" x2="371.96" y2="241.10" stroke="#3a3a3a" stroke-width="1.12" stroke-linecap="round"/>
<path d="M359.50 239.00L363.70 243.20M359.50 243.20L363.70 239.00" stroke="#d81848" stroke-width="0.65"/><path d="M360.30 239.80L362.90 242.40L362.90 239.80L360.30 242.40Z" fill="#b0001c"/><rect x="361.10" y="240.20" width="1" height="1.8" fill="#a00018"/>
<text x="272.2" y="248.20" font-size="4.28" font-weight="bold" fill="#1f3c8c" stroke="#1f3c8c" stroke-width="0.12">Tumor Suppressor</text>
<text x="0" y="0" font-size="4.6" fill="#222" transform="translate(272.40 253.25) scale(0.95 1)" style="white-space:pre">TP53</text>
<text x="0" y="0" font-size="4.6" fill="#2e2e2e" text-anchor="end" transform="translate(508.00 253.20) scale(0.91 1)" style="white-space:pre">21.6 [19.4, 23.9]</text>
<line x1="371.79" y1="251.60" x2="379.69" y2="251.60" stroke="#3a3a3a" stroke-width="1.12" stroke-linecap="round"/>
<path d="M373.55 249.50L377.75 253.70M373.55 253.70L377.75 249.50" stroke="#d81848" stroke-width="0.65"/><path d="M374.35 250.30L376.95 252.90L376.95 250.30L374.35 252.90Z" fill="#b0001c"/><rect x="375.15" y="250.70" width="1" height="1.8" fill="#a00018"/>
<text x="0" y="0" font-size="4.6" fill="#222" transform="translate(272.40 257.95) scale(0.95 1)" style="white-space:pre">RB1</text>
<text x="0" y="0" font-size="4.6" fill="#2e2e2e" text-anchor="end" transform="translate(508.00 257.90) scale(0.91 1)" style="white-space:pre">18.9 [13.5, 25.4]</text>
<line x1="361.42" y1="256.30" x2="382.33" y2="256.30" stroke="#3a3a3a" stroke-width="1.12" stroke-linecap="round"/>
<path d="M368.81 254.20L373.01 258.40M368.81 258.40L373.01 254.20" stroke="#d81848" stroke-width="0.65"/><path d="M369.61 255.00L372.21 257.60L372.21 255.00L369.61 257.60Z" fill="#b0001c"/><rect x="370.41" y="255.40" width="1" height="1.8" fill="#a00018"/>
<text x="0" y="0" font-size="4.6" fill="#2e2e2e" transform="translate(272.40 268.80) scale(0.95 1)" style="white-space:pre">Overall</text>
<text x="0" y="0" font-size="4.6" fill="#2e2e2e" text-anchor="end" transform="translate(508.00 268.80) scale(0.91 1)" style="white-space:pre">8.8 [ 7.3, 10.3]</text>
<line x1="350.53" y1="267.20" x2="355.80" y2="267.20" stroke="#3a3a3a" stroke-width="1.12" stroke-linecap="round"/>
<rect x="352.06" y="266.10" width="2.2" height="2.2" fill="#a8001a"/><path d="M350.56 264.60L355.76 269.80M350.56 269.80L355.76 264.60" stroke="#d0103a" stroke-width="0.85"/>
<line x1="102.40" y1="285.6" x2="181.41" y2="285.6" stroke="#111" stroke-width="1.2"/>
<line x1="105.20" y1="285.6" x2="105.20" y2="288.8" stroke="#111" stroke-width="0.9"/>
<text x="105.20" y="297" font-size="6.1" fill="#222" stroke="#222" stroke-width="0.1" text-anchor="middle">0</text>
<line x1="117.44" y1="285.6" x2="117.44" y2="288.8" stroke="#111" stroke-width="0.9"/>
<line x1="129.67" y1="285.6" x2="129.67" y2="288.8" stroke="#111" stroke-width="0.9"/>
<text x="129.67" y="297" font-size="6.1" fill="#222" stroke="#222" stroke-width="0.1" text-anchor="middle">10</text>
<line x1="141.91" y1="285.6" x2="141.91" y2="288.8" stroke="#111" stroke-width="0.9"/>
<line x1="154.14" y1="285.6" x2="154.14" y2="288.8" stroke="#111" stroke-width="0.9"/>
<text x="154.14" y="297" font-size="6.1" fill="#222" stroke="#222" stroke-width="0.1" text-anchor="middle">20</text>
<line x1="166.38" y1="285.6" x2="166.38" y2="288.8" stroke="#111" stroke-width="0.9"/>
<line x1="178.61" y1="285.6" x2="178.61" y2="288.8" stroke="#111" stroke-width="0.9"/>
<text x="178.61" y="297" font-size="6.1" fill="#222" stroke="#222" stroke-width="0.1" text-anchor="middle">30</text>
<text x="0" y="0" font-size="7.3" font-weight="bold" fill="#1a1a1a" text-anchor="middle" transform="translate(141.91 308.6) scale(0.763 1)">Mutation frequency, %</text>
<line x1="334.90" y1="285.6" x2="445.92" y2="285.6" stroke="#111" stroke-width="1.2"/>
<line x1="337.70" y1="285.6" x2="337.70" y2="288.8" stroke="#111" stroke-width="0.9"/>
<text x="337.70" y="297" font-size="6.1" fill="#222" stroke="#222" stroke-width="0.1" text-anchor="middle">0</text>
<line x1="355.27" y1="285.6" x2="355.27" y2="288.8" stroke="#111" stroke-width="0.9"/>
<line x1="372.84" y1="285.6" x2="372.84" y2="288.8" stroke="#111" stroke-width="0.9"/>
<text x="372.84" y="297" font-size="6.1" fill="#222" stroke="#222" stroke-width="0.1" text-anchor="middle">20</text>
<line x1="390.41" y1="285.6" x2="390.41" y2="288.8" stroke="#111" stroke-width="0.9"/>
<line x1="407.98" y1="285.6" x2="407.98" y2="288.8" stroke="#111" stroke-width="0.9"/>
<text x="407.98" y="297" font-size="6.1" fill="#222" stroke="#222" stroke-width="0.1" text-anchor="middle">40</text>
<line x1="425.55" y1="285.6" x2="425.55" y2="288.8" stroke="#111" stroke-width="0.9"/>
<line x1="443.12" y1="285.6" x2="443.12" y2="288.8" stroke="#111" stroke-width="0.9"/>
<text x="443.12" y="297" font-size="6.1" fill="#222" stroke="#222" stroke-width="0.1" text-anchor="middle">60</text>
<text x="0" y="0" font-size="7.3" font-weight="bold" fill="#1a1a1a" text-anchor="middle" transform="translate(390.41 308.6) scale(0.763 1)">Mutation frequency, %</text>
</svg>
<div class="rb"></div><div class="bb"></div><div class="lb"></div><div class="tb"></div>
<div class="frame"></div>
</body></html>
